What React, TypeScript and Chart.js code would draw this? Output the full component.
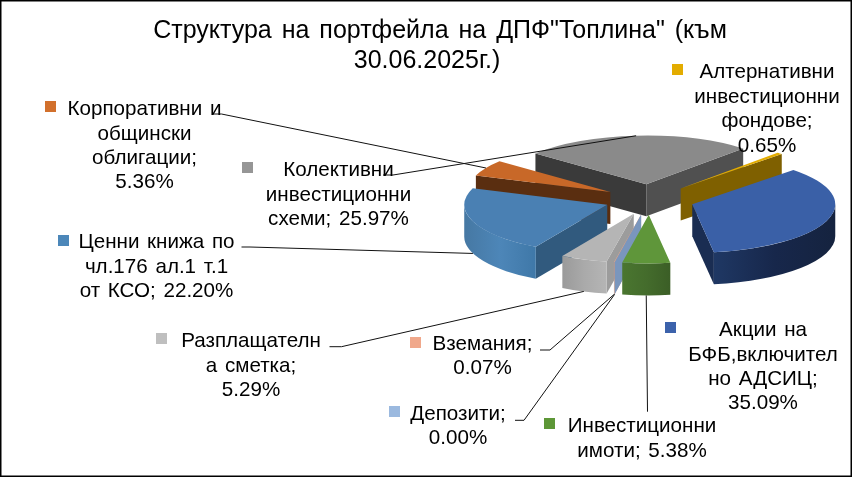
import React, { useEffect, useRef } from "react";
import { Chart, registerables } from "chart.js";

Chart.register(...registerables);

const categories = [
  "Акции на БФБ,включително АДСИЦ",
  "Инвестиционни имоти",
  "Депозити",
  "Вземания",
  "Разплащателна сметка",
  "Ценни книжа по чл.176 ал.1 т.1 от КСО",
  "Корпоративни и общински облигации",
  "Колективни инвестиционни схеми",
  "Алтернативни инвестиционни фондове",
];
const shares = [35.09, 5.38, 0.0, 0.07, 5.29, 22.2, 5.36, 25.97, 0.65];
const titleLines = ['Структура на портфейла на ДПФ"Топлина" (към', "30.06.2025г.)"];
const labelLines = [
  ["Акции на", "БФБ,включител", "но АДСИЦ;", "35.09%"],
  ["Инвестиционни", "имоти; 5.38%"],
  ["Депозити;", "0.00%"],
  ["Вземания;", "0.07%"],
  ["Разплащателн", "а сметка;", "5.29%"],
  ["Ценни книжа по", "чл.176 ал.1 т.1", "от КСО; 22.20%"],
  ["Корпоративни и", "общински", "облигации;", "5.36%"],
  ["Колективни", "инвестиционни", "схеми; 25.97%"],
  ["Алтернативни", "инвестиционни", "фондове;", "0.65%"],
];

// Styling
const topColors = ["#3A60A7", "#5F963A", "#9BB9DF", "#F0A88B", "#B5B5B5", "#4A80B3", "#C86828", "#8A8A8A", "#E3AC00"];
const keyColors = ["#3C62AB", "#5D9737", "#9BB9DF", "#F0A88B", "#BFBFBF", "#4C87B9", "#D2702C", "#969696", "#E3AC00"];
const edgeColors = ["#1A2D52", "#3C5F27", "#7A96BD", "#D09A80", "#9C9C9C", "#315A7E", "#5A2E10", "#3A3A3A", "#7F6000"];
const endEdgeColors = ["#1A2D52", "#3C5F27", "#7A96BD", "#D09A80", "#9C9C9C", "#315A7E", "#5A2E10", "#505050", "#7F6000"];
const rimStops = [
  ["#1F3864", "#17274B", "#15233F"],
  ["#4A7630", "#446C2C", "#3B5E26"],
  ["#7A96BD", "#7A96BD", "#7A96BD"],
  ["#D09A80", "#D09A80", "#D09A80"],
  ["#9A9A9A", "#AAAAAA", "#B5B5B5"],
  ["#4678A3", "#4D86B8", "#3F78A8"],
  ["#5A2E10", "#5A2E10", "#5A2E10"],
  ["#3A3A3A", "#3A3A3A", "#3A3A3A"],
  ["#7F6000", "#7F6000", "#7F6000"],
];
const paintOrder = [7, 8, 6, 5, 0, 4, 3, 2, 1];

// Layout
const WIDTH = 853;
const HEIGHT = 478;
const CENTER_X = 649.5;
const CENTER_Y = 199.5;
const RADIUS = 143;
const SQUASH = 0.34;
const EXPLODE = 45;
const DEPTH = 32;
const FONT = '"Liberation Sans", Arial, sans-serif';
const LABEL_SIZE = 20.6;
const TITLE_SIZE = 25;

type Placement = { cx: number; baselines: number[]; key: [number, number]; hook?: [number, number, number] };
const placements: Placement[] = [
  { cx: 763, baselines: [336, 360.5, 385, 409], key: [665, 322] },
  { cx: 642, baselines: [432, 456.5], key: [544, 418], hook: [647.5, 647.5, 411.7] },
  { cx: 458, baselines: [420, 444], key: [389, 406], hook: [515, 524, 420.3] },
  { cx: 482.5, baselines: [350, 374], key: [410, 337], hook: [540, 550, 350] },
  { cx: 251, baselines: [346.5, 371.5, 396], key: [156, 333], hook: [329.5, 341.5, 346.7] },
  { cx: 156.5, baselines: [248, 272.5, 297], key: [58, 235], hook: [241.5, 250, 247] },
  { cx: 144.5, baselines: [115, 139.5, 164, 188], key: [45, 101], hook: [212, 221.5, 114] },
  { cx: 338.5, baselines: [176, 200.5, 225], key: [242, 162], hook: [383, 393, 175] },
  { cx: 767, baselines: [78, 102.5, 127, 151.5], key: [672, 64] },
];

function App() {
  const ref = useRef<HTMLCanvasElement | null>(null);

  useEffect(() => {
    document.body.style.margin = "0";
    const canvas = ref.current;
    if (!canvas) return;

    const pointOn = (arc: any, angle: number, dist: number, drop = 0) => {
      const half = (arc.startAngle + arc.endAngle) / 2;
      return {
        x: arc.x + Math.cos(half) * EXPLODE + Math.cos(angle) * dist,
        y: arc.y + SQUASH * (Math.sin(half) * EXPLODE + Math.sin(angle) * dist) + drop,
      };
    };

    const radialWall = (ctx: CanvasRenderingContext2D, arc: any, angle: number, color: string) => {
      const a = pointOn(arc, angle, 0);
      const b = pointOn(arc, angle, arc.outerRadius);
      ctx.fillStyle = color;
      ctx.beginPath();
      ctx.moveTo(a.x, a.y);
      ctx.lineTo(b.x, b.y);
      ctx.lineTo(b.x, b.y + DEPTH);
      ctx.lineTo(a.x, a.y + DEPTH);
      ctx.closePath();
      ctx.fill();
    };

    const rimWall = (ctx: CanvasRenderingContext2D, arc: any, i: number) => {
      const from = Math.max(arc.startAngle, 0);
      const to = Math.min(arc.endAngle, Math.PI);
      if (to <= from) return;
      const origin = pointOn(arc, 0, 0);
      const r = arc.outerRadius;
      const left = origin.x + Math.cos(to) * r;
      const right = origin.x + Math.cos(from) * r;
      const gradient = ctx.createLinearGradient(left, 0, right, 0);
      gradient.addColorStop(0, rimStops[i][0]);
      gradient.addColorStop(0.5, rimStops[i][1]);
      gradient.addColorStop(1, rimStops[i][2]);
      ctx.fillStyle = gradient;
      ctx.beginPath();
      ctx.ellipse(origin.x, origin.y, r, r * SQUASH, 0, from, to, false);
      ctx.ellipse(origin.x, origin.y + DEPTH, r, r * SQUASH, 0, to, from, true);
      ctx.closePath();
      ctx.fill();
    };

    const solidPie = {
      id: "solidPie",
      beforeDatasetDraw(chart: any, args: any) {
        const ctx: CanvasRenderingContext2D = chart.ctx;
        const arcs = args.meta.data;
        for (const i of paintOrder) {
          const arc = arcs[i];
          if (Math.cos(arc.startAngle) < 0) radialWall(ctx, arc, arc.startAngle, edgeColors[i]);
          if (Math.cos(arc.endAngle) > 0) radialWall(ctx, arc, arc.endAngle, endEdgeColors[i]);
          rimWall(ctx, arc, i);
          const half = (arc.startAngle + arc.endAngle) / 2;
          ctx.save();
          ctx.translate(0, arc.y);
          ctx.scale(1, SQUASH);
          ctx.translate(0, -arc.y);
          ctx.translate(Math.cos(half) * EXPLODE, Math.sin(half) * EXPLODE);
          arc.draw(ctx);
          ctx.restore();
        }
        return false;
      },
      afterDraw(chart: any) {
        const ctx: any = chart.ctx;
        const arcs = chart.getDatasetMeta(0).data;
        ctx.save();
        ctx.strokeStyle = "#000";
        ctx.lineWidth = 1.5;
        ctx.strokeRect(0.75, 0.75, WIDTH - 2.5, HEIGHT - 2.5);

        ctx.lineWidth = 1;
        ctx.strokeStyle = "#111";
        placements.forEach((p, i) => {
          if (!p.hook) return;
          const arc = arcs[i];
          const half = (arc.startAngle + arc.endAngle) / 2;
          const end = pointOn(arc, half, arc.outerRadius, Math.sin(half) > 0 ? DEPTH : 0);
          ctx.beginPath();
          ctx.moveTo(p.hook[0], p.hook[2]);
          ctx.lineTo(p.hook[1], p.hook[2]);
          ctx.lineTo(end.x, end.y);
          ctx.stroke();
        });

        ctx.fillStyle = "#000";
        ctx.textAlign = "center";
        ctx.textBaseline = "alphabetic";
        ctx.font = `${TITLE_SIZE}px ${FONT}`;
        ctx.wordSpacing = "3px";
        ctx.fillText(titleLines[0], 440, 38);
        ctx.fillText(titleLines[1], 427, 67.5);

        ctx.font = `${LABEL_SIZE}px ${FONT}`;
        ctx.wordSpacing = "2px";
        labelLines.forEach((lines, i) => {
          const p = placements[i];
          lines.forEach((line, j) => {
            ctx.fillStyle = "#000";
            ctx.fillText(line, p.cx, p.baselines[j]);
          });
          ctx.fillStyle = keyColors[i];
          ctx.fillRect(p.key[0], p.key[1], 11, 11);
        });
        ctx.restore();
      },
    };

    const chart = new Chart(canvas, {
      type: "pie",
      data: {
        labels: categories,
        datasets: [
          {
            data: shares,
            backgroundColor: topColors,
            borderWidth: 0,
            radius: RADIUS,
            rotation: 45,
          } as any,
        ],
      },
      options: {
        responsive: false,
        animation: false,
        layout: {
          padding: { left: 2 * CENTER_X - WIDTH, bottom: HEIGHT - 2 * CENTER_Y, top: 0, right: 0 },
        },
        plugins: { legend: { display: false }, title: { display: false }, tooltip: { enabled: false } },
      },
      plugins: [solidPie],
    });
    return () => chart.destroy();
  }, []);

  return <canvas ref={ref} width={WIDTH} height={HEIGHT} style={{ display: "block" }} />;
}

export default App;
